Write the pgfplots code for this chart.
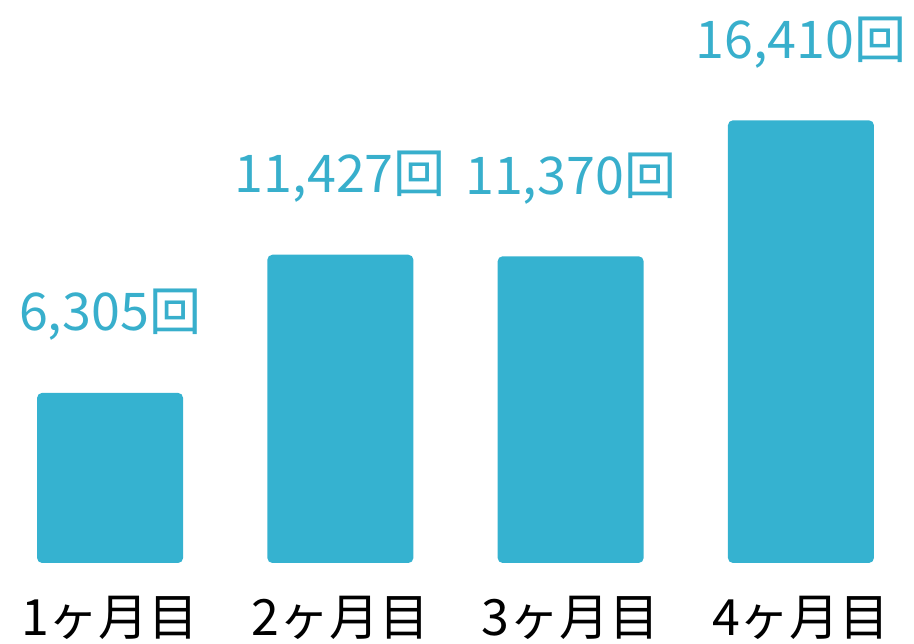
\documentclass[border=0pt]{standalone}
\usepackage{fontspec}
\setmainfont{Noto Sans CJK JP}
\usepackage{pgfplots}
\pgfplotsset{compat=1.18}
\definecolor{barblue}{HTML}{35B2D0}
\definecolor{labblue}{HTML}{38AFCC}
\begin{document}
\begin{tikzpicture}
\begin{axis}[
  width=457pt, height=321.5pt, scale only axis,
  xmin=-0.478, xmax=3.491,
  ymin=-2966, ymax=20870,
  ybar, bar width=73pt,
  enlargelimits=false, clip=false,
  axis line style={draw=none},
  tick style={draw=none},
  ytick=\empty,
  xtick={0,1,2,3},
  xticklabels={1ヶ月目,2ヶ月目,3ヶ月目,4ヶ月目},
  xticklabel style={font=\fontsize{25}{25}\selectfont, anchor=center, yshift=17pt},
  nodes near coords,
  point meta=explicit symbolic,
  every node near coord/.append style={font=\fontsize{26}{26}\selectfont,
    text=labblue, anchor=center, yshift=39pt},
]
\addplot[fill=barblue, draw=none, rounded corners=2.5pt] coordinates {
  (0,6305) [6,305回]
  (1,11427) [11,427回]
  (2,11370) [11,370回]
  (3,16410) [16,410回]
};
\coordinate (bl) at (rel axis cs:0,0);
\coordinate (tr) at (rel axis cs:1,1);
\end{axis}
\pgfresetboundingbox
\path[use as bounding box] (bl) rectangle (tr);
\end{tikzpicture}
\end{document}
